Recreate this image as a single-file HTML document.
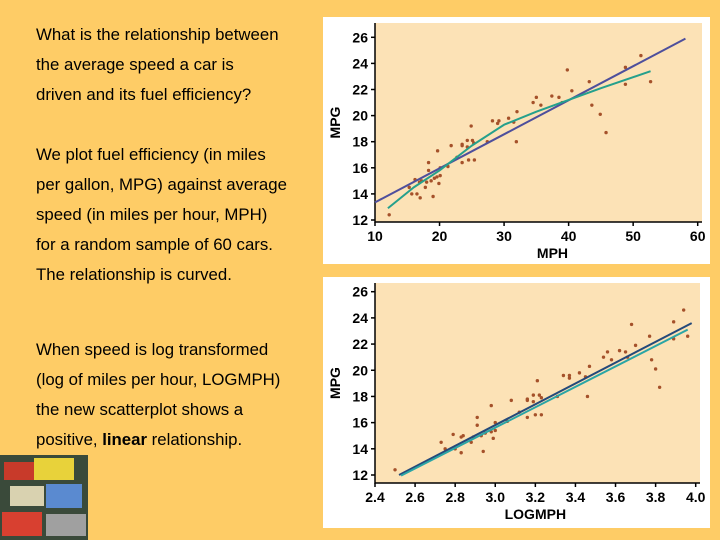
<!DOCTYPE html>
<html><head><meta charset="utf-8"><style>
html,body{margin:0;padding:0;background:#FECC66;}
svg{display:block;font-family:"Liberation Sans",Arial,sans-serif;}
</style></head><body>
<svg id="root" width="720" height="540" viewBox="0 0 720 540">
<rect x="0" y="0" width="720" height="540" fill="#FECC66"/>
<g font-size="16.8" fill="#000">
<text x="36" y="40">What is the relationship between</text>
<text x="36" y="70">the average speed a car is</text>
<text x="36" y="100">driven and its fuel efficiency?</text>
<text x="36" y="160">We plot fuel efficiency (in miles</text>
<text x="36" y="190">per gallon, MPG) against average</text>
<text x="36" y="220">speed (in miles per hour, MPH)</text>
<text x="36" y="250">for a random sample of 60 cars.</text>
<text x="36" y="280">The relationship is curved.</text>
<text x="36" y="355">When speed is log transformed</text>
<text x="36" y="385">(log of miles per hour, LOGMPH)</text>
<text x="36" y="415">the new scatterplot shows a</text>
<text x="36" y="445">positive, <tspan font-weight="bold">linear</tspan> relationship.</text>
</g>
<g>
<rect x="0" y="455" width="88" height="85" fill="#3a4a3a"/>
<rect x="4" y="462" width="30" height="18" fill="#c83a2a"/>
<rect x="34" y="458" width="40" height="22" fill="#e8d23a"/>
<rect x="10" y="486" width="34" height="20" fill="#d9d2b0"/>
<rect x="46" y="484" width="36" height="24" fill="#5a8ad0"/>
<rect x="2" y="512" width="40" height="24" fill="#d84030"/>
<rect x="46" y="514" width="40" height="22" fill="#a0a0a0"/>
</g>
<rect x="323" y="17" width="387" height="247" fill="#fff"/>
<rect x="323" y="277" width="387" height="251" fill="#fff"/>
<g id="top"></g>
<g id="bot"></g>
</svg>
<script>
const mph=[12.2,15.3,15.7,16.2,16.5,16.9,17.0,17.8,18.0,18.3,18.3,18.7,19.0,19.2,19.6,19.7,19.9,20.1,20.1,21.3,21.8,22.7,23.5,23.5,23.5,24.3,24.3,24.5,24.9,25.1,25.3,25.4,27.4,28.2,29.0,29.2,30.7,31.5,31.9,32.0,34.5,35.0,35.7,37.4,38.5,39.8,40.5,43.2,43.6,44.9,45.8,48.8,48.8,51.2,52.7,39.0,17.2];
const logmph=[2.50,2.73,2.75,2.79,2.80,2.83,2.83,2.88,2.89,2.91,2.91,2.93,2.94,2.95,2.98,2.98,2.99,3.00,3.00,3.06,3.08,3.12,3.16,3.16,3.16,3.19,3.19,3.20,3.21,3.22,3.23,3.23,3.31,3.34,3.37,3.37,3.42,3.45,3.46,3.47,3.54,3.56,3.58,3.62,3.65,3.68,3.70,3.77,3.78,3.80,3.82,3.89,3.89,3.94,3.96,3.66,2.84];
const mpg=[12.4,14.5,14.0,15.1,14.0,14.9,13.7,14.5,14.9,16.4,15.8,15.0,13.8,15.2,15.3,17.3,14.8,15.4,16.0,16.1,17.7,16.8,17.8,17.7,16.4,18.1,17.6,16.6,19.2,18.1,17.9,16.6,18.0,19.6,19.4,19.6,19.8,19.5,18.0,20.3,21.0,21.4,20.8,21.5,21.4,23.5,21.9,22.6,20.8,20.1,18.7,23.7,22.4,24.6,22.6,21.0,15.0];
const topFitX=[10,58.1];
const topFitY=[13.35,25.9];
const topCurveX=[12,16,20,25,30,35,40,45,52.7];
const topCurveY=[12.9,14.5,15.8,17.7,19.3,20.3,21.2,22.1,23.4];
const botFitX=[2.52,3.98];
const botFitY=[12.0,23.6];
const botFit2X=[2.53,3.96];
const botFit2Y=[11.95,23.1];
const yTicks=[12,14,16,18,20,22,24,26];
const topXTicks=[10,20,30,40,50,60];
const botXTicks=["2.4","2.6","2.8","3.0","3.2","3.4","3.6","3.8","4.0"];
const NS="http://www.w3.org/2000/svg";
function mk(parent,tag,attrs){const e=document.createElementNS(NS,tag);for(const k in attrs)e.setAttribute(k,attrs[k]);parent.appendChild(e);return e;}
function chart(g,cfg){
  const sx=v=>cfg.x0+(v-cfg.xmin)/(cfg.xmax-cfg.xmin)*(cfg.x1-cfg.x0);
  const sy=v=>cfg.y0+(v-12)/(26-12)*(cfg.y1-cfg.y0);
  const bg=mk(g,'rect',{x:cfg.x0,y:cfg.top,width:cfg.right-cfg.x0,height:cfg.axisY-cfg.top,fill:'#FCE2B6'});
  
  
  const ax=mk(g,'path',{d:`M${cfg.x0} ${cfg.top}V${cfg.axisY}H${cfg.right}`,stroke:'#000','stroke-width':1.5,fill:'none'});
  
  
  yTicks.forEach(t=>{const y=sy(t);
    mk(g,'line',{x1:cfg.x0-4,x2:cfg.x0,y1:y,y2:y,stroke:'#000','stroke-width':1.5});
    const tx=mk(g,'text',{x:cfg.x0-7,y:y+5,'text-anchor':'end','font-size':14,'font-weight':'bold'});tx.textContent=t;
    
    });
  cfg.xt.forEach(t=>{const x=sx(parseFloat(t));
    mk(g,'line',{x1:x,x2:x,y1:cfg.axisY,y2:cfg.axisY+4,stroke:'#000','stroke-width':1.5});
    const tx=mk(g,'text',{x:x,y:cfg.axisY+19,'text-anchor':'middle','font-size':14,'font-weight':'bold'});tx.textContent=t;
    
    });
  const xt=mk(g,'text',{x:sx(cfg.titleX),y:cfg.axisY+36,'text-anchor':'middle','font-size':14,'font-weight':'bold'});xt.textContent=cfg.title;
  
  
  const cy=(cfg.top+cfg.axisY)/2;
  const yt=mk(g,'text',{x:340,y:cy,'text-anchor':'middle','font-size':14,'font-weight':'bold',transform:`rotate(-90 340 ${cy})`});yt.textContent='MPG';
  
  
  cfg.xs.forEach((v,i)=>{const c=mk(g,'circle',{cx:sx(v),cy:sy(mpg[i]),r:1.7,fill:'#A5512A'});
    
    });
  cfg.lines.forEach(L=>{const p=mk(g,'polyline',{points:L.x.map((v,i)=>sx(v)+','+sy(L.y[i])).join(' '),fill:'none',stroke:L.c,'stroke-width':2,'stroke-linejoin':'round'});
    
    });
}
chart(document.getElementById('top'),{x0:375,x1:697.7,xmin:10,xmax:60,y0:220,y1:37.3,top:23,axisY:222,right:702,xt:topXTicks,title:'MPH',titleX:37.5,xs:mph,
  lines:[{x:topFitX,y:topFitY,c:'#4E4F9C',n:'linear-fit-line'},{x:topCurveX,y:topCurveY,c:'#25A08C',n:'smooth-curve'}]});
chart(document.getElementById('bot'),{x0:375,x1:695.7,xmin:2.4,xmax:4.0,y0:475,y1:291.7,top:283,axisY:483,right:700,xt:botXTicks,title:'LOGMPH',titleX:3.2,xs:logmph,
  lines:[{x:botFitX,y:botFitY,c:'#24497A',n:'linear-fit-line'},{x:botFit2X,y:botFit2Y,c:'#2AA5A5',n:'smooth-curve'}]});
</script>
</body></html>
